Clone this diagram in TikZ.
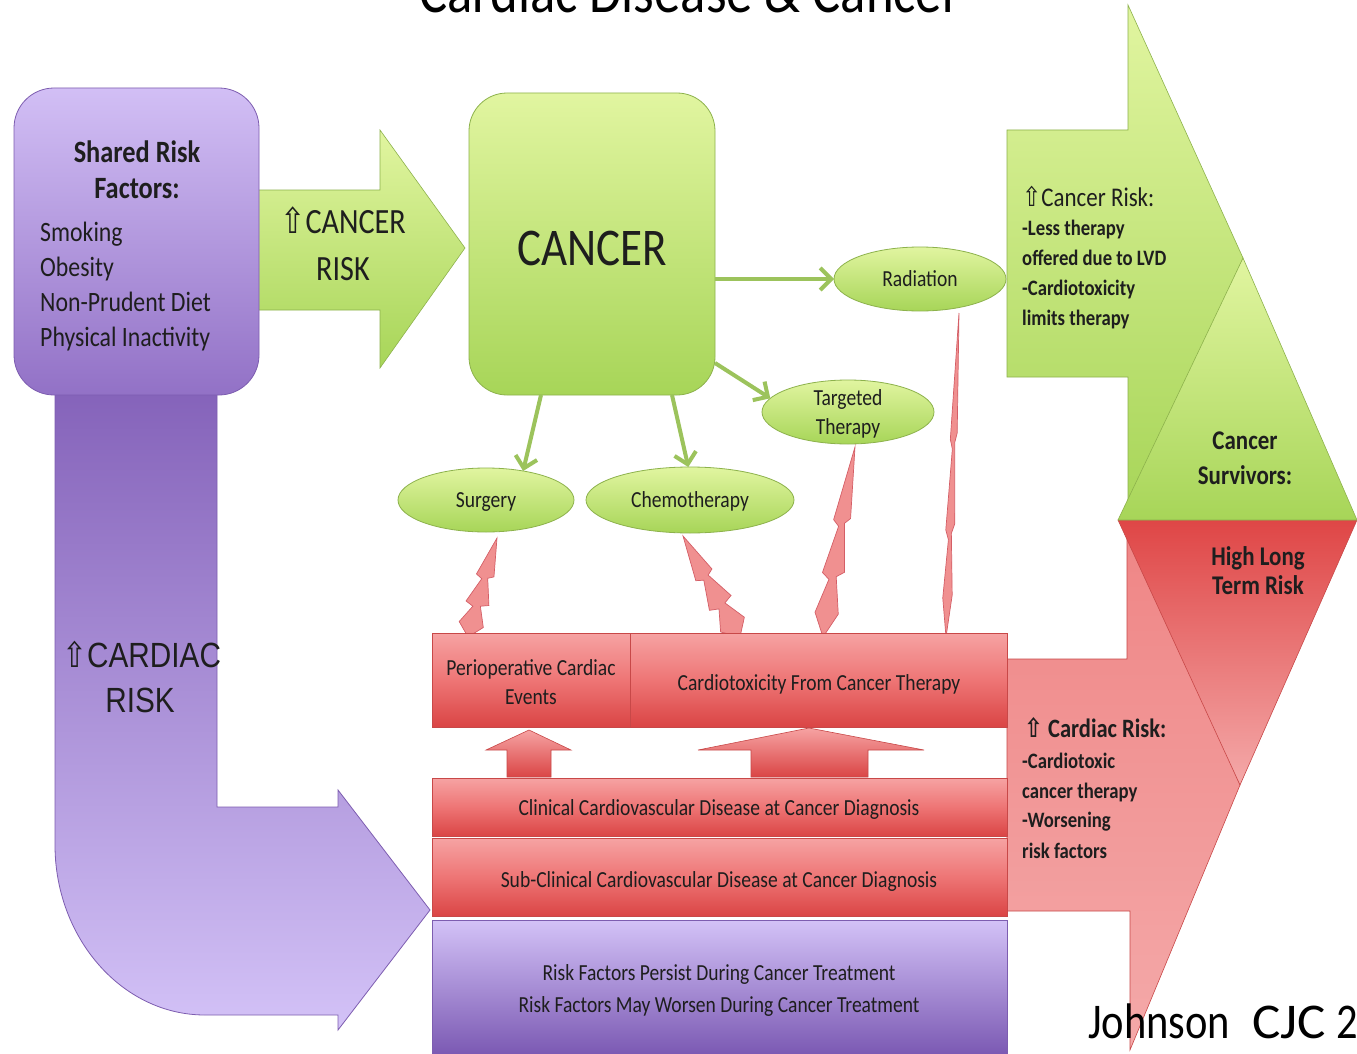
\documentclass[tikz,border=0pt]{standalone}
\usepackage{fontspec}
\setmainfont{Carlito}[FakeStretch=0.85]
\newfontfamily\arialc{Liberation Sans}[FakeStretch=0.85]
\newfontfamily\symf{DejaVu Sans}[FakeStretch=0.85]
\usetikzlibrary{shapes.geometric,arrows.meta,calc}
\newcommand\fsz[1]{\fontsize{#1}{#1}\selectfont}
\newcommand\uparr{{\symf\char"21E7}}
\definecolor{pTop}{HTML}{D2BFF5}
\definecolor{pBot}{HTML}{9271C6}
\definecolor{pEdge}{HTML}{7D5DB0}
\definecolor{pDark}{HTML}{8563BA}
\definecolor{pLight}{HTML}{D3C2F7}
\definecolor{pBarBot}{HTML}{7A58B2}
\definecolor{gTop}{HTML}{E1F5A0}
\definecolor{gBot}{HTML}{A7D558}
\definecolor{gEdge}{HTML}{8DB24C}
\definecolor{gLine}{HTML}{9CC35C}
\definecolor{rTop}{HTML}{F6A3A3}
\definecolor{rMid}{HTML}{EE7575}
\definecolor{rBot}{HTML}{DA4545}
\definecolor{rEdge}{HTML}{C84848}
\definecolor{rPink}{HTML}{F4A9A9}
\definecolor{rPinkTop}{HTML}{EF8585}
\definecolor{rDeep}{HTML}{DF4646}
\definecolor{boltFill}{HTML}{F09090}
\definecolor{boltEdge}{HTML}{D45E66}
\definecolor{txt}{HTML}{1E1E1E}
\newcommand\bolt[5]{%
  \pgfmathsetmacro\bdx{#3-(#1)}%
  \pgfmathsetmacro\bdy{#4-(#2)}%
  \pgfmathsetmacro\blen{veclen(\bdx,\bdy)}%
  \pgfmathsetmacro\bang{atan2(-\bdy,\bdx)}%
  \begin{scope}[shift={(#1,#2)},rotate=\bang,x=\blen pt,y=#5 pt]
    \draw[boltsty] (0,0) -- (0.12,0.8) -- (0.3,0.25) -- (0.33,0.75) -- (0.58,0.2)
      -- (0.61,0.6) -- (1,0) -- (0.63,-0.5) -- (0.6,-0.15) -- (0.35,-0.7)
      -- (0.32,-0.2) -- (0.13,-0.75) -- cycle;
  \end{scope}}
\begin{document}
\begin{tikzpicture}[x=1pt,y=-1pt,
  purp/.style={top color=pTop,bottom color=pBot,draw=pEdge,line width=0.8,inner sep=0,outer sep=0},
  purpL/.style={top color=pDark,bottom color=pLight,draw=pEdge,line width=0.8},
  purpbar/.style={top color=pLight,bottom color=pBarBot,draw=pEdge,line width=0.8,inner sep=0,outer sep=0},
  grn/.style={top color=gTop,bottom color=gBot,draw=gEdge,line width=0.8,inner sep=0,outer sep=0},
  ell/.style={grn,ellipse},
  redbar/.style={top color=rTop,bottom color=rBot,middle color=rMid,draw=rEdge,line width=0.8,inner sep=0,outer sep=0},
  uparrow/.style={top color=rTop,bottom color=rBot,draw=rEdge,line width=0.6},
  redarrow/.style={top color=rPinkTop,bottom color=rPink,draw=rEdge,line width=0.6},
  redtri/.style={top color=rDeep,bottom color=rPink,draw=rEdge,line width=0.6},
  grnarrow/.style={top color=gTop,bottom color=gBot,draw=gEdge,line width=0.6},
  grntri/.style={top color=gTop,bottom color=gBot,draw=gEdge,line width=0.6},
  garrow/.style={draw=gLine,line width=4,-{Straight Barb[length=11pt,width=22pt]}},
  boltsty/.style={fill=boltFill,draw=boltEdge,line width=0.7},
  lbl/.style={text=txt,inner sep=0,anchor=base},
  lblw/.style={text=txt,inner sep=0,anchor=base west}]
\useasboundingbox (0,0) rectangle (1357,1054);
\fill[white] (0,0) rectangle (1357,1054);

% title (cut by the top edge, as in the reference)
\node[lbl,text=black] (title) at (690,13) {\fsz{62}Cardiac Disease \& Cancer};

% purple L arrow
\draw[purpL] (55,392) -- (217,392) -- (217,807) -- (338,807) -- (338,790) -- (430,910)
  -- (338,1030) -- (338,1015) -- (205,1015) .. controls (122,1015) and (55,938) .. (55,845) -- cycle;
\node[lblw] (tcard1) at (62,667) {\arialc\fsz{35}\uparr CARDIAC};
\node[lbl] (tcard2) at (140,712) {\arialc\fsz{35}RISK};

% green arrow to cancer
\draw[grnarrow] (257,190) -- (380,190) -- (380,130) -- (465,248) -- (380,368) -- (380,310) -- (257,310) -- cycle;
\node[lbl] (tcr1) at (343,233) {\fsz{35.5}\uparr CANCER};
\node[lbl] (tcr2) at (343,280) {\fsz{35.5}RISK};

% shared risk factors box
\node[purp,rounded corners=40,minimum width=245,minimum height=307] (srf) at (136.5,241.5) {};
\node[lbl] (srf1) at (137,162) {\fsz{31}\bfseries Shared Risk};
\node[lbl] (srf2) at (137,198) {\fsz{31}\bfseries Factors:};
\node[lblw] (srf3) at (40,241) {\fsz{28}Smoking};
\node[lblw] (srf4) at (40,276) {\fsz{28}Obesity};
\node[lblw] (srf5) at (40,311) {\fsz{28}Non-Prudent Diet};
\node[lblw] (srf6) at (40,346) {\fsz{28}Physical Inactivity};

% cancer box
\node[grn,rounded corners=38,minimum width=246,minimum height=302] (cancer) at (592,244) {};
\node[lbl] (tcancer) at (592,265) {\fsz{53}CANCER};

% right big arrows
\draw[redarrow] (1007,659) -- (1127,659) -- (1127,520) -- (1240,785) -- (1130,1050) -- (1130,911) -- (1007,911) -- cycle;
\draw[redtri] (1118,520) -- (1357,520) -- (1240,785) -- cycle;
\draw[grnarrow] (1007,130) -- (1128,130) -- (1128,5) -- (1243,258) -- (1128,515) -- (1128,377) -- (1007,377) -- cycle;
\draw[grntri] (1243,258) -- (1357,520) -- (1118,520) -- cycle;

\node[lblw] (gr1) at (1022,206) {\fsz{27}\uparr Cancer Risk:};
\node[lblw] (gr2) at (1022,235) {\fsz{22}\bfseries -Less therapy};
\node[lblw] (gr3) at (1022,265) {\fsz{22}\bfseries offered due to LVD};
\node[lblw] (gr4) at (1022,295) {\fsz{22}\bfseries -Cardiotoxicity};
\node[lblw] (gr5) at (1022,325) {\fsz{22}\bfseries limits therapy};
\node[lbl] (cs1) at (1245,449) {\fsz{27}\bfseries Cancer};
\node[lbl] (cs2) at (1245,484) {\fsz{27}\bfseries Survivors:};
\node[lbl] (hl1) at (1258,565) {\fsz{27}\bfseries High Long};
\node[lbl] (hl2) at (1258,594) {\fsz{27}\bfseries Term Risk};
\node[lblw] (rr1) at (1024,737) {\fsz{26.5}\bfseries\uparr\ Cardiac Risk:};
\node[lblw] (rr2) at (1022,768) {\fsz{22}\bfseries -Cardiotoxic};
\node[lblw] (rr3) at (1022,798) {\fsz{22}\bfseries cancer therapy};
\node[lblw] (rr4) at (1022,827) {\fsz{22}\bfseries -Worsening};
\node[lblw] (rr5) at (1022,858) {\fsz{22}\bfseries risk factors};

% treatment ellipses
\node[ell,minimum width=172,minimum height=64] (rad) at (920,279) {};
\node[lbl] (trad) at (920,286) {\fsz{23}Radiation};
\node[ell,minimum width=172,minimum height=64] (targ) at (848,412) {};
\node[lbl] (ttarg1) at (848,405) {\fsz{23}Targeted};
\node[lbl] (ttarg2) at (848,434) {\fsz{23}Therapy};
\node[ell,minimum width=176,minimum height=64] (surg) at (486,500) {};
\node[lbl] (tsurg) at (486,507) {\fsz{23}Surgery};
\node[ell,minimum width=208,minimum height=66] (chemo) at (690,500) {};
\node[lbl] (tchemo) at (690,507) {\fsz{23}Chemotherapy};

% connectors from cancer
\draw[garrow] (cancer.east |- rad.west) -- (rad.west);
\draw[garrow] ([yshift=32]cancer.south east) -- (targ.170);
\draw[garrow] ([xshift=-51]cancer.south) -- (surg.38);
\draw[garrow] ([xshift=80]cancer.south) -- (chemo.93);

% lightning bolts
\bolt{468}{637}{497}{538}{16}
\bolt{740}{637}{683}{536}{18}
\bolt{823}{637}{855}{447}{15}
\bolt{946}{637}{959}{313}{6}

% bars
\node[redbar,minimum width=198,minimum height=94] (periop) at (531,680) {};
\node[redbar,minimum width=377,minimum height=94] (cardtox) at (818.5,680) {};
\node[redbar,minimum width=575,minimum height=58] (clin) at (719.5,807) {};
\node[redbar,minimum width=575,minimum height=78] (subclin) at (719.5,877) {};
\node[purpbar,minimum width=575,minimum height=136] (rfp) at (719.5,988) {};

\node[lbl] (tper1) at (531,675) {\fsz{23}Perioperative Cardiac};
\node[lbl] (tper2) at (531,704) {\fsz{23}Events};
\node[lbl] (tctx) at (819,690) {\fsz{23}Cardiotoxicity From Cancer Therapy};
\node[lbl] (tclin) at (719,815) {\fsz{23}Clinical Cardiovascular Disease at Cancer Diagnosis};
\node[lbl] (tsub) at (719,887) {\fsz{23}Sub-Clinical Cardiovascular Disease at Cancer Diagnosis};
\node[lbl] (trf1) at (719,980) {\fsz{23}Risk Factors Persist During Cancer Treatment};
\node[lbl] (trf2) at (719,1012) {\fsz{23}Risk Factors May Worsen During Cancer Treatment};

% block arrows between bars
\draw[uparrow] (507,777) -- (507,750) -- (486,750) -- (529,730) -- (571,750) -- (551,750) -- (551,777) -- cycle;
\draw[uparrow] (751,777) -- (751,750) -- (698,750) -- (809,728) -- (924,750) -- (868,750) -- (868,777) -- cycle;

% citation (cut by the right edge, as in the reference)
\node[lblw,text=black] (cite) at (1088,1038) {\fsz{50}Johnson\hspace{22pt}\scalebox{1.25}[1]{CJC}\hspace{10pt}2};
\end{tikzpicture}
\end{document}
